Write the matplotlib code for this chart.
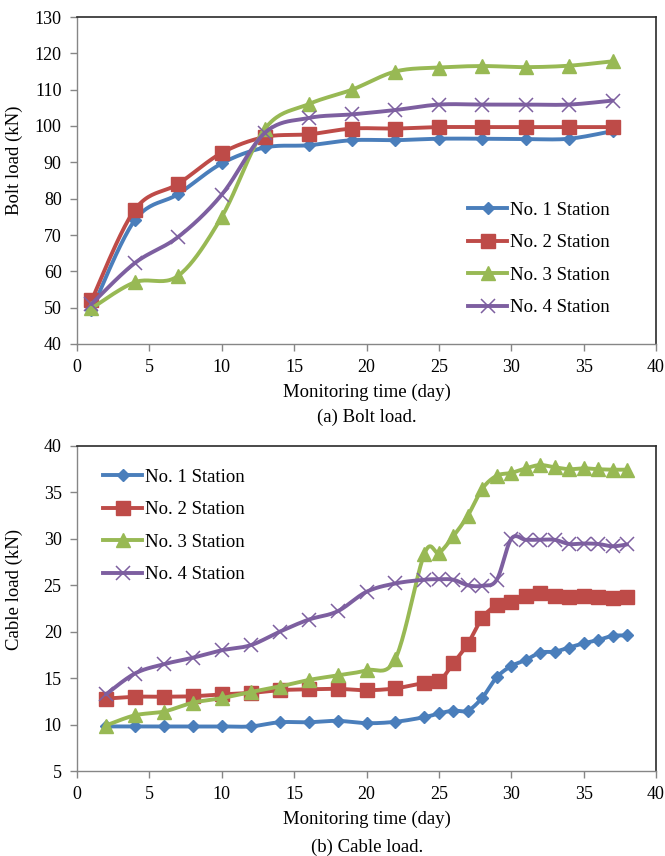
import numpy as np
import matplotlib
matplotlib.use("Agg")
import matplotlib.pyplot as plt
from matplotlib.lines import Line2D

plt.rcParams['font.family'] = ['Liberation Serif', 'DejaVu Serif']

# ---------------- data ----------------
series_names = ["No. 1 Station", "No. 2 Station", "No. 3 Station", "No. 4 Station"]

bolt_days = [1, 4, 7, 10, 13, 16, 19, 22, 25, 28, 31, 34, 37]
bolt_s1 = [49.3, 74.1, 81.3, 89.7, 94.1, 94.7, 96.1, 96.1, 96.5, 96.5, 96.4, 96.5, 98.6]
bolt_s2 = [52.0, 77.0, 84.1, 92.6, 97.0, 97.7, 99.3, 99.3, 99.7, 99.7, 99.7, 99.7, 99.7]
bolt_s3 = [49.8, 57.0, 58.8, 75.0, 99.3, 106.0, 110.0, 115.0, 116.1, 116.5, 116.2, 116.6, 117.8]
bolt_s4 = [51.0, 62.3, 69.5, 81.1, 98.2, 102.2, 103.2, 104.4, 105.9, 105.9, 105.9, 105.9, 107.0]

cable_days = [2, 4, 6, 8, 10, 12, 14, 16, 18, 20, 22, 24, 25, 26, 27, 28, 29, 30,
              31, 32, 33, 34, 35, 36, 37, 38]
cable_s1 = [9.8, 9.8, 9.8, 9.8, 9.8, 9.8, 10.25, 10.25, 10.4, 10.15, 10.3, 10.8, 11.2,
            11.5, 11.5, 12.9, 15.1, 16.3, 16.95, 17.75, 17.85, 18.3, 18.75, 19.1, 19.55, 19.6]
cable_s2 = [12.8, 13.0, 13.0, 13.05, 13.25, 13.4, 13.7, 13.8, 13.85, 13.7, 13.9, 14.5, 14.65,
            16.6, 18.7, 21.5, 22.85, 23.15, 23.85, 24.15, 23.9, 23.75, 23.8, 23.7, 23.65, 23.7]
cable_s3 = [9.9, 11.0, 11.4, 12.35, 12.85, 13.5, 14.1, 14.8, 15.3, 15.85, 17.1, 28.4, 28.5,
            30.3, 32.5, 35.4, 36.8, 37.1, 37.6, 37.95, 37.7, 37.5, 37.6, 37.5, 37.45, 37.45]
cable_s4 = [13.25, 15.5, 16.5, 17.2, 18.0, 18.55, 20.0, 21.3, 22.2, 24.3, 25.2, 25.6, 25.65,
            25.6, 25.0, 24.95, 25.6, 30.0, 29.9, 29.9, 29.9, 29.45, 29.5, 29.45, 29.2, 29.4]

bolt_xticks = [0, 5, 10, 15, 20, 25, 30, 35, 40]
bolt_yticks = [40, 50, 60, 70, 80, 90, 100, 110, 120, 130]
cable_yticks = [5, 10, 15, 20, 25, 30, 35, 40]

# ---------------- styles ----------------
colors = ["#4A7EBB", "#BE4B48", "#98B954", "#7D5FA0"]
markers = ["D", "s", "^", "x"]
msizes = [6.3, 9.5, 10, 9.5]


def smooth(x, y, n=24):
    """Catmull-Rom (Bezier) smoothing of a polyline, as Excel 'smoothed line'."""
    x = np.asarray(x, float)
    y = np.asarray(y, float)
    P = np.column_stack([x, y])
    Pp = np.vstack([P[0], P, P[-1]])
    out = []
    t = np.linspace(0, 1, n)[:, None]
    for i in range(len(P) - 1):
        p0, p1, p2, p3 = Pp[i], Pp[i + 1], Pp[i + 2], Pp[i + 3]
        c1 = p1 + (p2 - p0) / 6.0
        c2 = p2 - (p3 - p1) / 6.0
        seg = ((1 - t) ** 3) * p1 + 3 * ((1 - t) ** 2) * t * c1 + 3 * (1 - t) * t ** 2 * c2 + t ** 3 * p2
        out.append(seg if i == 0 else seg[1:])
    out = np.vstack(out)
    return out[:, 0], out[:, 1]


def draw_panel(ax, days, ys, yticks, ylabel, legend_anchor):
    for k, y in enumerate(ys):
        sx, sy = smooth(days, y)
        ax.plot(sx, sy, color=colors[k], lw=2.8, solid_capstyle='round', zorder=2 + 2 * k)
        if markers[k] == 'x':
            ax.plot(days, y, linestyle='none', marker='x', ms=msizes[k], mew=1.1,
                    color=colors[k], zorder=3 + 2 * k)
        else:
            ax.plot(days, y, linestyle='none', marker=markers[k], ms=msizes[k],
                    mfc=colors[k], mec=colors[k], zorder=3 + 2 * k)
    ax.set_xlim(0, 40)
    ax.set_ylim(yticks[0], yticks[-1])
    ax.set_xticks(bolt_xticks)
    ax.set_yticks(yticks)
    ax.tick_params(direction='out', length=5, width=1, color='#868686',
                   labelsize=13, pad=6)
    for s in ['left', 'bottom']:
        ax.spines[s].set_color('#868686')
        ax.spines[s].set_linewidth(1.0)
    for s in ['top', 'right']:
        ax.spines[s].set_color('#2b2b2b')
        ax.spines[s].set_linewidth(1.2)
    ax.set_xlabel("Monitoring time (day)", fontsize=13.5, labelpad=5)
    ax.set_ylabel(ylabel, fontsize=13.5, labelpad=6)
    ax.yaxis.set_label_coords(-0.093, legend_anchor[2])

    handles = []
    for k in range(4):
        if markers[k] == 'x':
            h = Line2D([], [], color=colors[k], lw=2.8, marker='x', ms=msizes[k], mew=1.1)
        else:
            h = Line2D([], [], color=colors[k], lw=2.8, marker=markers[k], ms=msizes[k],
                       mfc=colors[k], mec=colors[k])
        handles.append(h)
    ax.legend(handles, series_names, loc='center left',
              bbox_to_anchor=(legend_anchor[0], legend_anchor[1]),
              frameon=False, fontsize=13.5, handlelength=2.1, handletextpad=0.15,
              labelspacing=0.82, borderpad=0, borderaxespad=0, numpoints=1)


fig = plt.figure(figsize=(6.65, 8.56), dpi=100)
W, H = 665, 856

ax1 = fig.add_axes([77 / W, 1 - 344 / H, (656 - 77) / W, (344 - 17) / H])
draw_panel(ax1, bolt_days, [bolt_s1, bolt_s2, bolt_s3, bolt_s4], bolt_yticks,
           "Bolt load (kN)", (0.675, 0.26, 0.563))

ax2 = fig.add_axes([77 / W, 1 - 771 / H, (656 - 77) / W, (771 - 446) / H])
draw_panel(ax2, cable_days, [cable_s1, cable_s2, cable_s3, cable_s4], cable_yticks,
           "Cable load (kN)", (0.045, 0.754, 0.56))

fig.text(367 / W, 1 - 417 / H, "(a) Bolt load.", ha='center', va='center', fontsize=13.5)
fig.text(367 / W, 1 - 847 / H, "(b) Cable load.", ha='center', va='center', fontsize=13.5)

fig.savefig("out.png", dpi=100)
